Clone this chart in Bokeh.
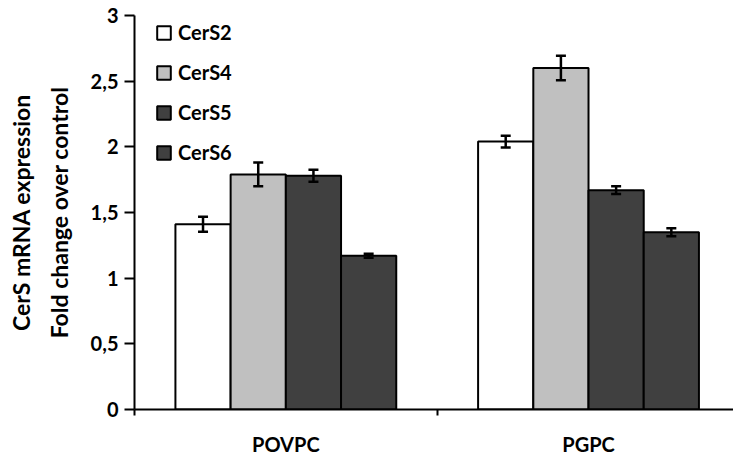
from bokeh.plotting import figure
from bokeh.models import (ColumnDataSource, Range1d, FixedTicker, Whisker, Legend,
                          LegendItem)
from bokeh.embed import file_html
from bokeh.resources import INLINE

# ---- data ----
groups = ["POVPC", "PGPC"]
series = ["CerS2", "CerS4", "CerS5", "CerS6"]
cers2 = [1.41, 2.04]
cers4 = [1.79, 2.60]
cers5 = [1.78, 1.67]
cers6 = [1.17, 1.35]
cers2_err = [0.057, 0.045]
cers4_err = [0.090, 0.093]
cers5_err = [0.045, 0.030]
cers6_err = [0.015, 0.030]
colors = ["#ffffff", "#c0c0c0", "#404040", "#404040"]
y_ticks = [0, 0.5, 1, 1.5, 2, 2.5, 3]
y_tick_labels = ["0", "0,5", "1", "1,5", "2", "2,5", "3"]
y_title = "CerS mRNA expression\nFold change over control"

values = [cers2, cers4, cers5, cers6]
errors = [cers2_err, cers4_err, cers5_err, cers6_err]

FONT = "Lato"
FS = "20px"
bar_w = 0.1824

p = figure(width=733, height=462, output_backend="svg", toolbar_location=None,
           x_range=Range1d(0, 1.979), y_range=Range1d(0, 3),
           min_border_left=134, min_border_right=0, min_border_top=15,
           min_border_bottom=53)
p.outline_line_color = None
p.xgrid.grid_line_color = None
p.ygrid.grid_line_color = None
p.background_fill_color = "white"
p.border_fill_color = "white"

centers = [i + 0.5 for i in range(len(groups))]
items = []
for k, name in enumerate(series):
    xs = [c + (k - 1.5) * bar_w for c in centers]
    src = ColumnDataSource(dict(x=xs, top=values[k],
                                upper=[v + e for v, e in zip(values[k], errors[k])],
                                lower=[v - e for v, e in zip(values[k], errors[k])]))
    r = p.vbar(x="x", top="top", width=bar_w, bottom=0, source=src,
               fill_color=colors[k], line_color="black", line_width=2)
    w = Whisker(base="x", upper="upper", lower="lower", source=src,
                line_color="black", line_width=2.5, level="overlay")
    w.upper_head.size = 10
    w.lower_head.size = 10
    w.upper_head.line_width = 2.5
    w.lower_head.line_width = 2.5
    p.add_layout(w)
    items.append(LegendItem(label=name, renderers=[r]))

legend = Legend(items=items, location=(21, 245), padding=0, margin=0,
                spacing=16, glyph_width=17, glyph_height=17, label_height=24,
                label_standoff=6, border_line_color=None,
                background_fill_alpha=0,
                label_text_font=FONT, label_text_font_style="bold",
                label_text_font_size=FS, label_text_color="black")
p.add_layout(legend)

# y axis
ya = p.yaxis[0]
ya.ticker = FixedTicker(ticks=y_ticks, minor_ticks=[])
ya.major_label_overrides = {t: l for t, l in zip(y_ticks, y_tick_labels)}
ya.axis_line_width = 2
ya.axis_line_color = "black"
ya.major_tick_line_width = 2
ya.major_tick_line_color = "black"
ya.major_tick_out = 10
ya.major_tick_in = 0
ya.major_label_standoff = 6
ya.major_label_text_font = FONT
ya.major_label_text_font_style = "bold"
ya.major_label_text_font_size = FS
ya.major_label_text_color = "black"
ya.axis_label = y_title
ya.axis_label_text_font = FONT
ya.axis_label_text_font_style = "bold"
ya.axis_label_text_font_size = "23px"
ya.axis_label_text_color = "black"
ya.axis_label_text_line_height = 1.33
ya.axis_label_standoff = 15

# x axis
xa = p.xaxis[0]
xa.ticker = FixedTicker(ticks=centers, minor_ticks=[0, 1, 2])
xa.major_label_overrides = {c: g for c, g in zip(centers, groups)}
xa.axis_line_width = 2
xa.axis_line_color = "black"
xa.major_tick_line_color = None
xa.minor_tick_line_color = "black"
xa.minor_tick_line_width = 2
xa.minor_tick_out = 6
xa.minor_tick_in = 0
xa.major_label_standoff = 16
xa.major_label_text_font = FONT
xa.major_label_text_font_style = "bold"
xa.major_label_text_font_size = FS
xa.major_label_text_color = "black"

open("out.html", "w").write(file_html(p, INLINE))
